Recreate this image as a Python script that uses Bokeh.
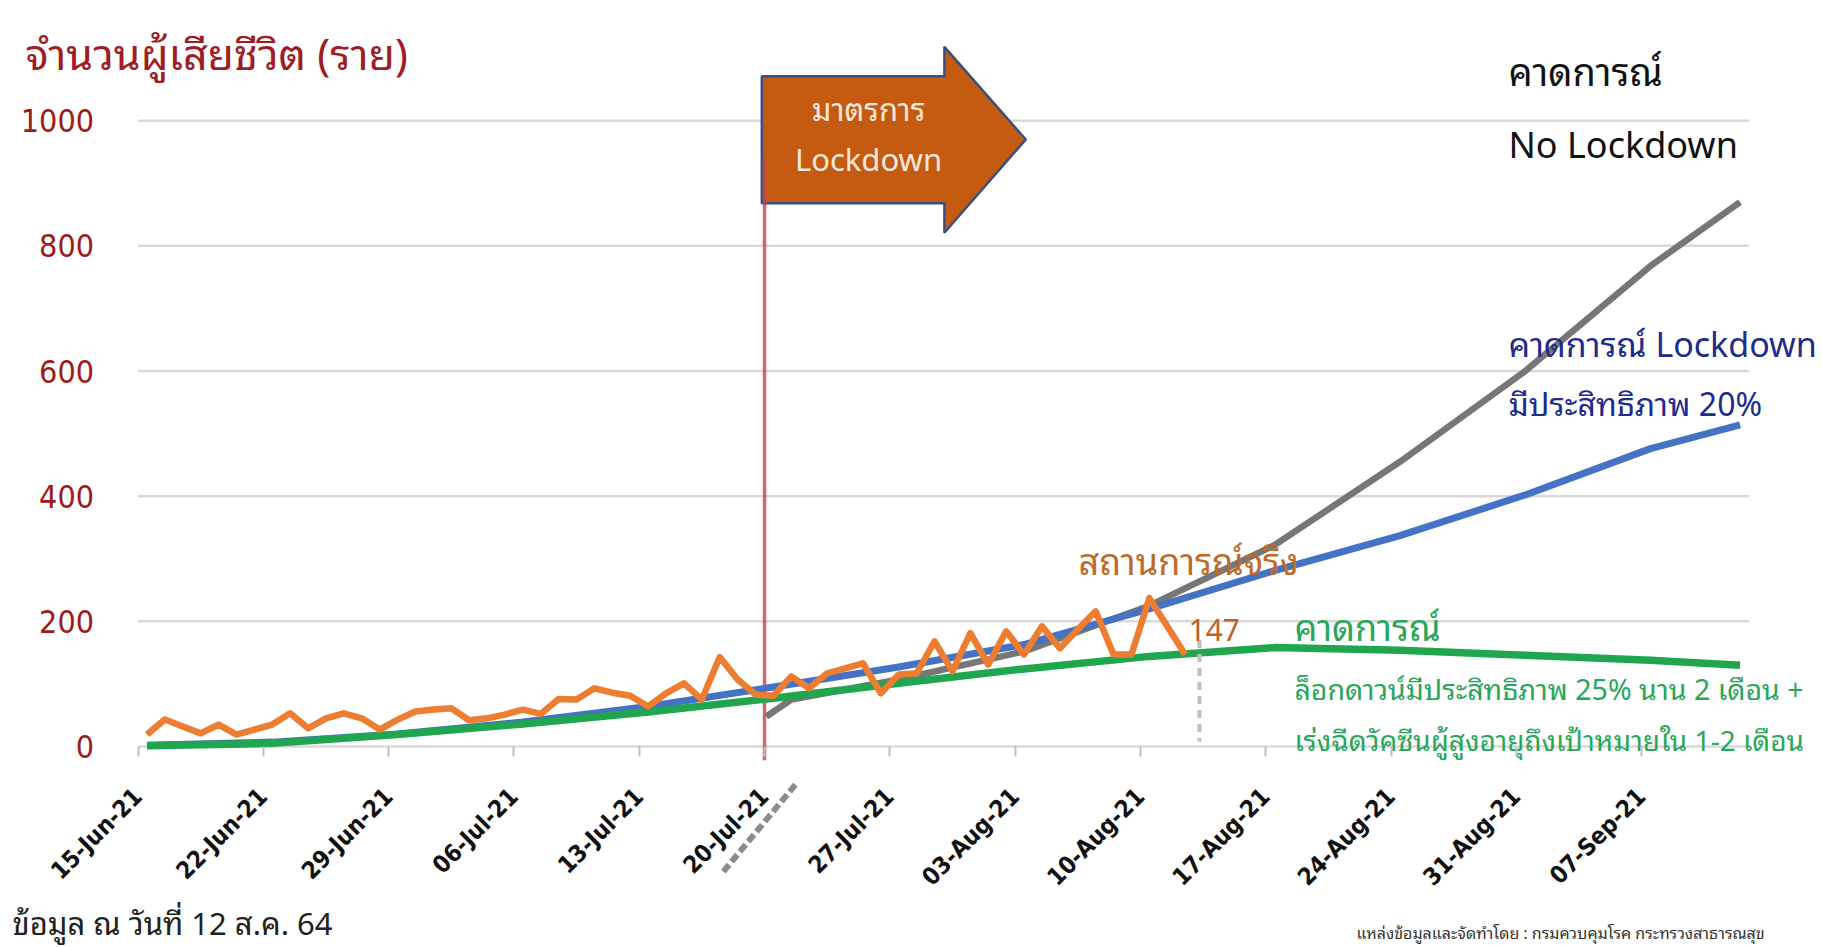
from math import pi

from bokeh.core.properties import value
from bokeh.embed import file_html
from bokeh.models import FixedTicker, LinearAxis, Range1d
from bokeh.plotting import figure
from bokeh.resources import INLINE

# ---------------------------------------------------------------- data
# day 0 = 15 Jun 2021; daily points sit in the middle of their day slot
tick_labels = ["15-Jun-21", "22-Jun-21", "29-Jun-21", "06-Jul-21", "13-Jul-21",
               "20-Jul-21", "27-Jul-21", "03-Aug-21", "10-Aug-21", "17-Aug-21",
               "24-Aug-21", "31-Aug-21", "07-Sep-21"]
y_ticks = [0, 200, 400, 600, 800, 1000]

# reported daily deaths, 15 Jun - 12 Aug 2021
actual_deaths = [19, 43, 32, 21, 35, 19, 27, 35, 53, 29,
                 45, 53, 45, 27, 43, 56, 59, 61, 42, 45,
                 51, 59, 52, 76, 75, 93, 86, 81, 64, 85,
                 101, 75, 143, 107, 83, 81, 112, 93, 117, 125,
                 133, 85, 115, 117, 168, 120, 181, 131, 184, 147,
                 192, 157, 187, 216, 147, 147, 237, 192, 147]

# model projections (day offsets and deaths)
model_days = [0.5, 7.5, 14.5, 21.5, 28.5, 35.5, 42.5, 49.5, 56.5, 63.5,
              70.5, 77.5, 84.5, 89.5]
lockdown20 = [2, 7, 20, 39, 64, 95, 127, 163, 220, 281, 337, 402, 476, 514]
lockdown25_vaccine = [1, 5, 19, 36, 55, 77, 101, 124, 144, 158, 154, 146, 138, 130]

no_lockdown_days = [35.1, 36.5, 42.5, 49.5, 56.5, 63.5, 70.5, 77.5, 84.5, 89.5]
no_lockdown = [48, 75, 107, 152, 225, 322, 455, 600, 768, 870]

# dashed stub of the no-lockdown series below the axis
stub_days = [32.7, 36.84]
stub_values = [-200, -57]

lockdown_day = 35          # 20-Jul-21
report_marker_day = 59.3   # dotted marker beside the last report
report_marker_range = [170, 8]
last_reported = actual_deaths[-1]

# ---------------------------------------------------------------- layout
W, H = 1822, 947
X0_PX, PX_PER_DAY = 137.5, 17.9      # canvas x of day 0, pixels per day
Y0_PX, PX_PER_UNIT = 746.0, 0.6258   # canvas y of 0 deaths, pixels per death
GRID_END = 90


def cx(px):
    return (px - X0_PX) / PX_PER_DAY


def cy(py):
    return (Y0_PX - py) / PX_PER_UNIT


THAI = "'Noto Sans Thai Looped', 'Noto Looped Thai', 'Noto Sans Thai', 'Noto Sans', sans-serif"
LATIN = "'Liberation Sans Narrow', 'DejaVu Sans Condensed', 'Liberation Sans', sans-serif"

p = figure(width=W, height=H,
           x_range=Range1d(cx(0), cx(W)), y_range=Range1d(cy(H), cy(0)),
           x_axis_location=None, y_axis_location=None,
           output_backend="svg", toolbar_location=None,
           min_border=0, outline_line_color=None,
           background_fill_color="white", border_fill_color="white")
p.grid.visible = False

# horizontal grid lines
p.segment(x0=[0] * len(y_ticks), x1=[GRID_END] * len(y_ticks), y0=y_ticks, y1=y_ticks,
          line_color="#D9D9D9", line_width=2.5)

# axes pinned to the data origin
yax = LinearAxis(fixed_location=0, ticker=FixedTicker(ticks=y_ticks),
                 axis_line_color=None, major_tick_line_color=None,
                 minor_tick_line_color=None, major_label_standoff=38,
                 major_label_text_color="#9C1C1C", major_label_text_font_size="32px",
                 major_label_text_font=LATIN)
p.add_layout(yax, "left")

x_ticks = [7 * i for i in range(len(tick_labels))]
xax = LinearAxis(fixed_location=0, ticker=FixedTicker(ticks=x_ticks),
                 major_label_overrides={t: lab for t, lab in zip(x_ticks, tick_labels)},
                 major_label_orientation=pi / 4,
                 axis_line_color=None, major_tick_in=0, major_tick_out=10,
                 major_tick_line_color="#BFBFBF", major_tick_line_width=2,
                 minor_tick_line_color=None, major_label_standoff=36,
                 major_label_text_font_size="24px", major_label_text_font_style="bold",
                 major_label_text_color="#111111", major_label_text_font=LATIN)
p.add_layout(xax, "below")

# lockdown arrow
a_left, a_body_right, a_tip = lockdown_day - 0.15, lockdown_day + 10.05, lockdown_day + 14.6
a_top, a_bottom, a_head_top, a_head_bottom, a_mid = 1071, 868, 1118, 821, 970
p.patch(x=[a_left, a_body_right, a_body_right, a_tip, a_body_right, a_body_right, a_left],
        y=[a_top, a_top, a_head_top, a_mid, a_head_bottom, a_bottom, a_bottom],
        fill_color="#C55A11", line_color="#3A4F7F", line_width=2.5)
p.text(x=[cx(868), cx(868)], y=[cy(106), cy(156)], text=["มาตรการ", "Lockdown"],
       text_font=value(THAI), text_font_size="31px", text_color="#FCE9DC",
       text_align="center", text_baseline="middle")

# lockdown start line
p.segment(x0=[lockdown_day], x1=[lockdown_day], y0=[-22], y1=[940],
          line_color="#C8414B", line_alpha=0.8, line_width=3.5)

# series
p.line(stub_days, stub_values, line_color="#8C8C8C", line_width=6, line_dash="9 4")
p.line(no_lockdown_days, no_lockdown, line_color="#767676", line_width=6.5,
       line_join="round")
p.line(model_days, lockdown20, line_color="#4472C4", line_width=7, line_join="round")
p.line(model_days, lockdown25_vaccine, line_color="#1FA64E", line_width=7.5,
       line_join="round")
actual_days = [i + 0.5 for i in range(len(actual_deaths))]
p.line(actual_days, actual_deaths, line_color="#ED7D31", line_width=6.5,
       line_join="round")

p.segment(x0=[report_marker_day], x1=[report_marker_day],
          y0=[report_marker_range[0]], y1=[report_marker_range[1]],
          line_color="#BFBFBF", line_width=4, line_dash="8 6")


def label(px, py, txt, size, color, font=THAI, align="left", baseline="middle", style="normal"):
    p.text(x=[cx(px)], y=[cy(py)], text=[txt], text_font=value(font),
           text_font_size=size, text_color=color, text_align=align,
           text_baseline=baseline, text_font_style=style)


label(25, 50, "จำนวนผู้เสียชีวิต (ราย)", "43px", "#A01C24")
label(1508, 68, "คาดการณ์", "38px", "#111111")
label(1508, 141, "No Lockdown", "36px", "#111111")
label(1508, 341, "คาดการณ์ Lockdown", "34px", "#202B8E")
label(1508, 401, "มีประสิทธิภาพ 20%", "32px", "#202B8E")
label(1078, 558, "สถานการณ์จริง", "36px", "#C06A28")
label(1188, 629, str(last_reported), "30px", "#C0601E")
label(1294, 624, "คาดการณ์", "36px", "#27A75A")
label(1294, 686, "ล็อกดาวน์มีประสิทธิภาพ 25% นาน 2 เดือน +", "28.5px", "#27A75A")
label(1294, 738, "เร่งฉีดวัคซีนผู้สูงอายุถึงเป้าหมายใน 1-2 เดือน", "28px", "#27A75A")
label(12, 920, "ข้อมูล ณ วันที่ 12 ส.ค. 64", "31px", "#222222")
label(1356, 944, "แหล่งข้อมูลและจัดทำโดย : กรมควบคุมโรค กระทรวงสาธารณสุข", "16px", "#333333",
      baseline="bottom")

open("out.html", "w").write(file_html(p, INLINE))
